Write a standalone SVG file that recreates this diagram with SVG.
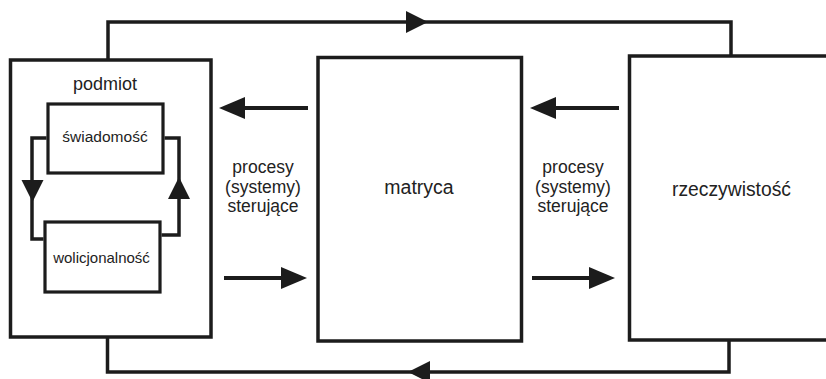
<svg xmlns="http://www.w3.org/2000/svg" width="826" height="379" viewBox="0 0 826 379">
<style>
.box{fill:#fff;stroke:#1c1c1c;stroke-width:3.5}
.ibox{fill:#fff;stroke:#1c1c1c;stroke-width:3.2}
.ln{fill:none;stroke:#1c1c1c;stroke-width:3.5}
.aln{fill:none;stroke:#1c1c1c;stroke-width:4}
.hd{fill:#1c1c1c}
text{font-family:"Liberation Sans",Arial,sans-serif;fill:#222;text-anchor:middle}
.lbl{font-size:17.5px}
</style>
<rect width="826" height="379" fill="#fff"/>
<g id="label-left">
<text class="lbl" x="263" y="173">procesy</text>
<text class="lbl" x="263" y="193">(systemy)</text>
<text class="lbl" x="263" y="212">sterujące</text>
</g>
<g id="label-right">
<text class="lbl" x="573" y="173">procesy</text>
<text class="lbl" x="573" y="193">(systemy)</text>
<text class="lbl" x="573" y="212">sterujące</text>
</g>
<g id="podmiot">
<rect class="box" x="10.5" y="60" width="200.5" height="277"/>
<text x="105" y="89.5" font-size="18">podmiot</text>
</g>
<g id="swiadomosc">
<rect class="ibox" x="48" y="104" width="115" height="69"/>
<text x="105" y="142" font-size="15.5">świadomość</text>
</g>
<g id="wolicjonalnosc">
<rect class="ibox" x="45" y="222" width="115" height="70"/>
<text x="101.5" y="263" font-size="15">wolicjonalność</text>
</g>
<g id="matryca">
<rect class="box" x="318" y="57.5" width="203.5" height="283.5"/>
<text x="419" y="193.5" font-size="19.5">matryca</text>
</g>
<g id="rzeczywistosc">
<rect class="box" x="629.5" y="56" width="220" height="284"/>
<text x="731.5" y="196" font-size="19.3">rzeczywistość</text>
</g>
<g id="connectors">
<path class="ln" d="M108 60 V22 H731 V56"/>
<polygon class="hd" points="428,22 406,11 406,33"/>
<path class="ln" d="M107.5 337 V372 H729 V340"/>
<polygon class="hd" points="408,372 430,361 430,383"/>
<path class="aln" d="M308 108 H230"/>
<polygon class="hd" points="219,108 245,97 245,119"/>
<path class="aln" d="M224 278 H296"/>
<polygon class="hd" points="307,278 281,267 281,289"/>
<path class="aln" d="M619 108 H541"/>
<polygon class="hd" points="530,108 556,97 556,119"/>
<path class="aln" d="M532 278 H604"/>
<polygon class="hd" points="615,278 589,267 589,289"/>
<path class="ln" d="M46.5 138 H32 V239 H43.5"/>
<polygon class="hd" points="32.5,202 21.5,180 43.5,180"/>
<path class="ln" d="M161.5 235 H179 V138 H164.5"/>
<polygon class="hd" points="179,177 168,199 190,199"/>
</g>
</svg>
